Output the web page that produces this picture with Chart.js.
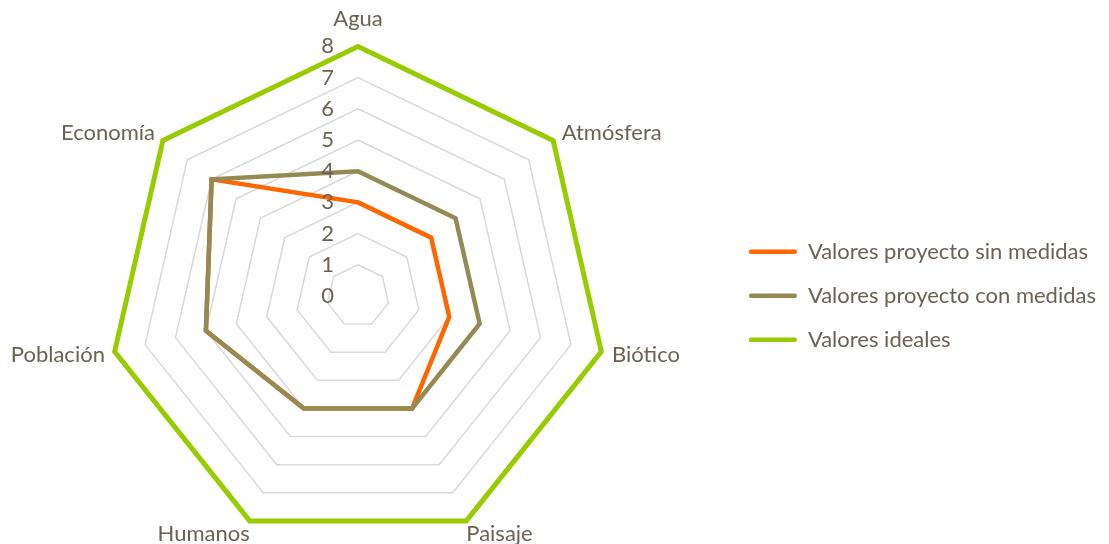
<!DOCTYPE html>
<html lang="es">
<head>
<meta charset="utf-8">
<title>Valoración de impactos</title>
<script src="https://cdn.jsdelivr.net/npm/chart.js@4/dist/chart.umd.min.js"></script>
<style>
  html, body { margin: 0; padding: 0; background: #fff; overflow: hidden; }
  body { width: 1109px; height: 544px; position: relative; }
  /* el lienzo sobresale un poco por arriba y a la izquierda para dar más radio a la red */
  #radar-chart { position: absolute; left: -22px; top: -14px; display: block; }
</style>
</head>
<body>
<canvas id="radar-chart" width="1131" height="580"></canvas>
<script>
// factores evaluados y valoraciones
const factores = ["Agua", "Atmósfera", "Biótico", "Paisaje", "Humanos", "Población", "Economía"];
const sinMedidas = [3, 3, 3, 4, 4, 5, 6];
const conMedidas = [4, 4, 4, 4, 4, 5, 6];
const ideales = [8, 8, 8, 8, 8, 8, 8];
const escala = [0, 1, 2, 3, 4, 5, 6, 7, 8];

const TEXTO = "#6b6253";
const TAM = 22;

// separación de cada etiqueta respecto a su vértice
const sepEtiquetas = [14, 11, 11, 0, 0, 10, 10];
const laterales = [1, 2, 5, 6];

// números de la escala a la izquierda del eje vertical
const etiquetasEscala = {
    id: "etiquetasEscala",
    afterDatasetsDraw(chart) {
        const r = chart.scales.r;
        const ctx = chart.ctx;
        ctx.save();
        ctx.font = TAM + "px Lato";
        ctx.fillStyle = TEXTO;
        ctx.textAlign = "right";
        ctx.textBaseline = "middle";
        r.ticks.forEach(t => {
            ctx.fillText(t.label, r.xCenter - 24, r.yCenter - r.getDistanceFromCenterForValue(t.value));
        });
        ctx.restore();
    }
};

Chart.defaults.font.family = "Lato";
Chart.defaults.color = TEXTO;

new Chart(document.getElementById("radar-chart"), {
    type: 'radar',
    data: {
        labels: factores,
        datasets: [
            {
                label: "Valores proyecto sin medidas",
                data: sinMedidas,
                borderColor: "#ff6600",
                backgroundColor: "#ff6600",
                borderWidth: 4.5,
                order: 3
            },
            {
                label: "Valores proyecto con medidas",
                data: conMedidas,
                borderColor: "#948a54",
                backgroundColor: "#948a54",
                borderWidth: 4.5,
                order: 2
            },
            {
                label: "Valores ideales",
                data: ideales,
                borderColor: "#99cc00",
                backgroundColor: "#99cc00",
                borderWidth: 5,
                order: 1
            }
        ]
    },
    options: {
        responsive: false,
        animation: false,
        layout: {
            padding: { top: 0, bottom: 0, left: 0, right: 3 }
        },
        elements: {
            line: { fill: false, tension: 0, borderJoinStyle: 'miter' },
            point: { radius: 0, hoverRadius: 0 }
        },
        scales: {
            r: {
                min: escala[0],
                max: escala[escala.length - 1],
                ticks: { stepSize: 1, display: false },
                angleLines: { display: false },
                grid: { color: "#d9d9d9", lineWidth: 1.5 },
                pointLabels: {
                    color: TEXTO,
                    padding: ctx => sepEtiquetas[ctx.index],
                    font: ctx => ({
                        size: TAM,
                        lineHeight: laterales.includes(ctx.index) ? "2px" : 1.2
                    })
                }
            }
        },
        plugins: {
            tooltip: { enabled: false },
            legend: {
                position: 'right',
                title: { display: true, text: '', padding: { top: 25, bottom: 0 } },
                labels: {
                    color: TEXTO,
                    font: { size: TAM },
                    boxWidth: 48,
                    boxHeight: 4.5,
                    padding: 22,
                    useBorderRadius: true,
                    borderRadius: 2,
                    sort: (a, b) => a.datasetIndex - b.datasetIndex,
                    generateLabels(chart) {
                        const items = Chart.defaults.plugins.legend.labels.generateLabels(chart);
                        items.forEach(it => { it.lineWidth = 0; });
                        return items;
                    }
                }
            }
        }
    },
    plugins: [etiquetasEscala]
});
</script>
</body>
</html>
